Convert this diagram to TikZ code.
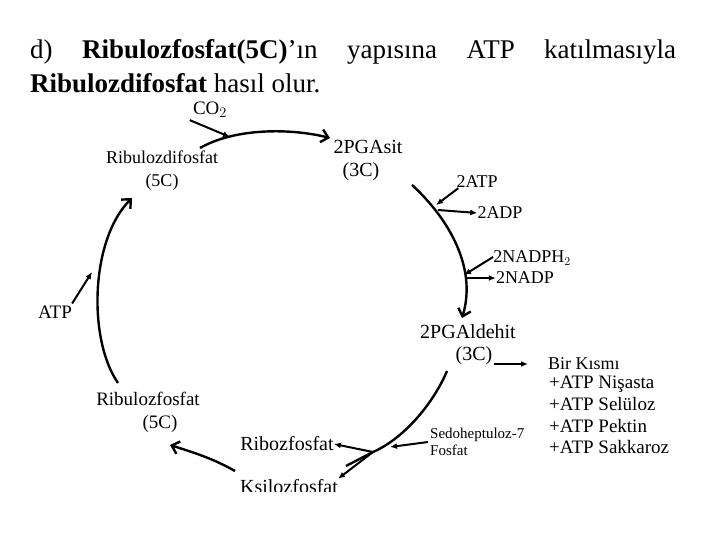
\documentclass[tikz,border=0pt]{standalone}
\usepackage{fontspec}
\setmainfont{Liberation Serif}
\usetikzlibrary{arrows.meta}

\begin{document}
\begin{tikzpicture}[x=1pt,y=-1pt,
    lbl/.style={font=\fontsize{19}{23}\selectfont, inner sep=0pt, align=center},
    cycle/.style={line width=2.4pt, -{Straight Barb[length=7pt,width=13pt,line width=2.4pt]}},
    feed/.style={line width=2pt, -{Latex[length=7pt,width=6pt]}}]
    \useasboundingbox[fill=white] (0,0) rectangle (720,540);

    % Heading
    \node (baslik) [anchor=north west, inner sep=0pt, text width=646pt, align=justify] at (30,39)
        {\fontsize{27}{34}\selectfont
         d) \textbf{Ribulozfosfat(5C)}’ın yapısına ATP katılmasıyla\linebreak
         \textbf{Ribulozdifosfat} hasıl olur.\par};

    % Nodes
    \node[lbl] (co2) at (210,110) {CO$_2$};
    \node[lbl, font=\fontsize{18}{23}\selectfont] (ribdifos) at (162,171) {Ribulozdifosfat\\(5C)};
    \node[lbl, font=\fontsize{20}{23}\selectfont] (pgasit) at (368,161) {2PGAsit\\(3C)\hspace*{14pt}};
    \node[lbl, font=\fontsize{18}{23}\selectfont] (atp2) at (477,182) {2ATP};
    \node[lbl, font=\fontsize{18}{23}\selectfont] (adp2) at (500,213) {2ADP};
    \node[lbl, font=\fontsize{18}{23}\selectfont] (nadph) at (532,258) {2NADPH$_2$};
    \node[lbl, font=\fontsize{18}{23}\selectfont] (nadp) at (525,278) {2NADP};
    \node[lbl, font=\fontsize{20}{22}\selectfont] (pgald) at (468,345) {2PGAldehit\\\hspace*{12pt}(3C)};
    \node[lbl, anchor=west, font=\fontsize{18}{20}\selectfont] (kisim) at (548,364) {Bir Kısmı};
    \node[lbl, align=left, anchor=north west, font=\fontsize{19}{21.7}\selectfont]
        (urunler) at (549,376) {+ATP Nişasta\\+ATP Selüloz\\+ATP Pektin\\+ATP Sakkaroz};
    \node[lbl, align=left, anchor=west, font=\fontsize{15}{17}\selectfont]
        (sedo) at (430,442) {Sedoheptuloz-7\\Fosfat};
    \node[lbl, font=\fontsize{20}{23}\selectfont] (ribozf) at (287,444) {Ribozfosfat};
    \begin{scope}
        \clip (0,0) rectangle (720,491);
        \node[lbl, anchor=base, font=\fontsize{20}{23}\selectfont] (ksiloz) at (289,493) {Ksilozfosfat};
    \end{scope}
    \node[lbl] (ribf) at (148,412) {Ribulozfosfat\\\hspace*{24pt}(5C)};
    \node[lbl] (atpl) at (55,312) {ATP};

    % Points on the cycle
    \coordinate (t0) at (200,148);
    \coordinate (t1) at (330,138);
    \coordinate (co2in) at (230,137);
    \coordinate (r0) at (412,185);
    \coordinate (r1) at (462,318);
    \coordinate (atpin) at (436,205);
    \coordinate (adpout) at (438,210);
    \coordinate (nadphin) at (464,275);
    \coordinate (nadpout) at (465,278);
    \coordinate (pgout) at (494,364);
    \coordinate (kisimin) at (528,364);
    \coordinate (g0) at (447,371);
    \coordinate (kesisim) at (373,452);
    \coordinate (g1) at (346,466);
    \coordinate (b0) at (235,471);
    \coordinate (b1) at (170,445);
    \coordinate (l0) at (118,383);
    \coordinate (l1) at (132,198);
    \coordinate (atplin) at (92,272);
    \coordinate (sedoin) at (390,447);

    % Lines
    \draw[cycle] (t0) .. controls (235,128) and (290,128) .. (t1);
    \draw[cycle] (r0) .. controls (445,215) and (478,265) .. (r1);
    \draw[line width=2.4pt] (g0) .. controls (434,402) and (405,438) .. (kesisim) -- (g1);
    \draw[cycle] (b0) .. controls (212,458) and (192,452) .. (b1);
    \draw[cycle] (l0) .. controls (88,340) and (90,240) .. (l1);

    \draw[feed] (co2.south west) ++(-3,2) coordinate (co2out) -- (co2in);
    \draw[feed] (atp2.south west) ++(2,0) coordinate (atpout) -- (atpin);
    \draw[feed] (adpout) -- (adp2.west);
    \draw[feed] (nadph.west) ++(0,-1) coordinate (nadphout) -- (nadphin);
    \draw[feed] (nadpout) -- (nadp.west);
    \draw[feed] (pgout) -- (kisimin);
    \draw[feed] (sedo.west) ++(-2,0) coordinate (sedoout) -- (sedoin);
    \draw[feed] (kesisim) -- (ribozf.east);
    \draw[feed] (kesisim) -- (ksiloz.north east);
    \draw[feed] (atpl.north east) ++(0,-2) coordinate (atplout) -- (atplin);
\end{tikzpicture}
\end{document}
